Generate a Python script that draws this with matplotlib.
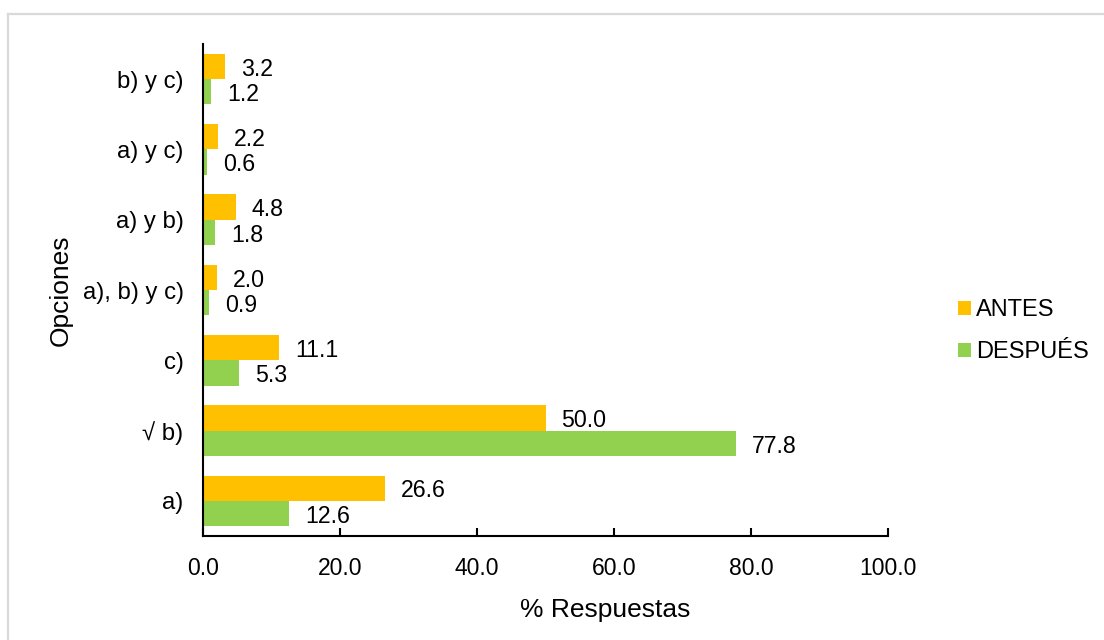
import matplotlib
matplotlib.use("Agg")
import matplotlib.pyplot as plt
from matplotlib.patches import Patch
from matplotlib.lines import Line2D
import numpy as np

plt.rcParams['font.family'] = ['Liberation Sans', 'DejaVu Sans']

categories = ["a)", "\u221a b)", "c)", "a), b) y c)", "a) y b)", "a) y c)", "b) y c)"]
antes = [26.6, 50.0, 11.1, 2.0, 4.8, 2.2, 3.2]
despues = [12.6, 77.8, 5.3, 0.9, 1.8, 0.6, 1.2]
series_names = ["ANTES", "DESPUÉS"]
colors = ["#FFC000", "#92D050"]
x_ticks = [0, 20, 40, 60, 80, 100]

fig = plt.figure(figsize=(11.04, 6.4), dpi=100)
ax = fig.add_axes([203 / 1104, 104 / 640, 685 / 1104, 492 / 640])

y = np.arange(len(categories))
h = 0.36
bars_a = ax.barh(y + h / 2, antes, height=h, color=colors[0], label=series_names[0])
bars_d = ax.barh(y - h / 2, despues, height=h, color=colors[1], label=series_names[1])

for bars, vals in ((bars_a, antes), (bars_d, despues)):
    for b, v in zip(bars, vals):
        ax.annotate(f"{v:.1f}", xy=(v, b.get_y() + b.get_height() / 2),
                    xytext=(11.5, -2), textcoords="offset points",
                    va="center", ha="left", fontsize=16.7, color="black")

ax.set_xlim(0, 100)
ax.set_ylim(-0.5, len(categories) - 0.5)
ax.set_xticks(x_ticks)
ax.set_xticklabels([f"{t:.1f}" for t in x_ticks], fontsize=16.5)
ax.set_yticks(y)
ax.set_yticklabels(categories, fontsize=17.2)
ax.tick_params(axis="x", direction="in", length=6, width=1.5, pad=15)
ax.tick_params(axis="y", length=0, pad=14)

for side in ("top", "right"):
    ax.spines[side].set_visible(False)
for side in ("left", "bottom"):
    ax.spines[side].set_linewidth(1.5)
    ax.spines[side].set_color("black")

ax.set_xlabel("% Respuestas", fontsize=19, labelpad=15)
ax.xaxis.set_label_coords((605 - 203) / 685, -(610 - 536) / 492 - 0.0)
ax.xaxis.label.set_va("center")
ax.set_ylabel("Opciones", fontsize=19)
ax.yaxis.set_label_coords(-(203 - 61) / 685, 0.5)
ax.yaxis.label.set_va("center")

handles = [Patch(facecolor=c, edgecolor="none") for c in colors]
fig.legend(handles, series_names, loc="center left",
           bbox_to_anchor=(958 / 1104, 1 - 331 / 640), frameon=False,
           fontsize=17, handlelength=0.53, handleheight=0.53,
           handletextpad=0.25, labelspacing=0.85, borderpad=0, borderaxespad=0)

# light frame along the top and left edges
fig.add_artist(Line2D([8 / 1104, 8 / 1104], [0, 1 - 13.5 / 640], transform=fig.transFigure,
                      color="#D9D9D9", linewidth=1.6))
fig.add_artist(Line2D([8 / 1104, 1], [1 - 13.5 / 640, 1 - 13.5 / 640], transform=fig.transFigure,
                      color="#D9D9D9", linewidth=1.6))

fig.savefig("out.png", dpi=100)
